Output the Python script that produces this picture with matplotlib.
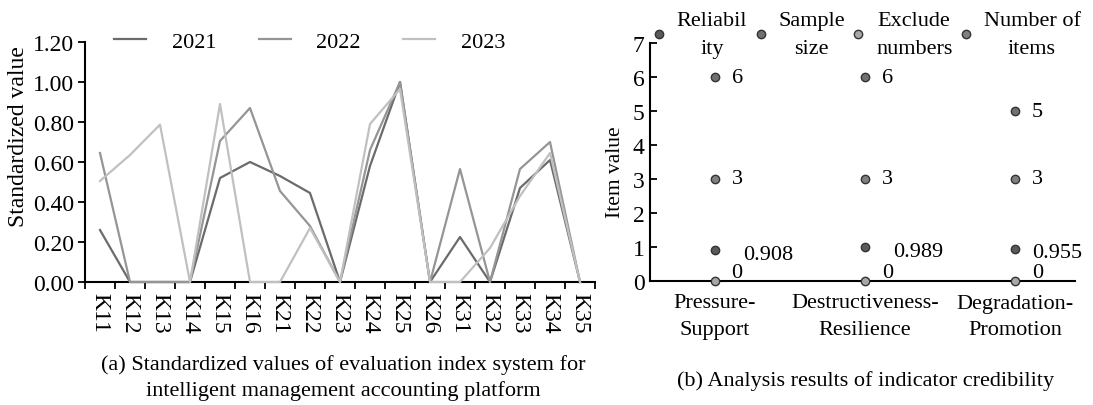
import matplotlib
matplotlib.use("Agg")
import matplotlib.pyplot as plt
import numpy as np

plt.rcParams['font.family'] = ['Liberation Serif', 'DejaVu Serif']

# ---------------- data: panel (a) ----------------
categories = ["K11", "K12", "K13", "K14", "K15", "K16", "K21", "K22", "K23",
              "K24", "K25", "K26", "K31", "K32", "K33", "K34", "K35"]
y2021 = [0.26, 0.00, 0.00, 0.00, 0.52, 0.60, 0.53, 0.445, 0.00,
         0.58, 1.00, 0.00, 0.225, 0.00, 0.47, 0.61, 0.00]
y2022 = [0.645, 0.00, 0.00, 0.00, 0.705, 0.87, 0.455, 0.28, 0.00,
         0.66, 1.00, 0.00, 0.565, 0.00, 0.565, 0.70, 0.00]
y2023 = [0.505, 0.635, 0.787, 0.00, 0.89, 0.00, 0.00, 0.27, 0.00,
         0.79, 0.965, 0.00, 0.00, 0.17, 0.43, 0.645, 0.00]
series_labels = ["2021", "2022", "2023"]
y_ticks_a = [0.0, 0.2, 0.4, 0.6, 0.8, 1.0, 1.2]

# ---------------- data: panel (b) ----------------
dimensions = ["Pressure-\nSupport", "Destructiveness-\nResilience", "Degradation-\nPromotion"]
reliability = [0.908, 0.989, 0.955]
sample_size = [6, 6, 5]
exclude_numbers = [0, 0, 0]
number_of_items = [3, 3, 3]
legend_b = ["Reliabil\nity", "Sample\nsize", "Exclude\nnumbers", "Number of\nitems"]
y_ticks_b = [0, 1, 2, 3, 4, 5, 6, 7]

FS_TICK = 17
FS_LEG = 16
FS_LAB = 16
FS_CAP = 16
fig = plt.figure(figsize=(10.93, 4.06), dpi=100)

# ================= panel (a) =================
axa = fig.add_axes([85/1093, 1-283/406, 510/1093, 240/406])
x = np.arange(len(categories))
colors_a = ["#6b6b6b", "#959595", "#c0c0c0"]
for ys, c, lab in zip([y2021, y2022, y2023], colors_a, series_labels):
    axa.plot(x, ys, color=c, lw=1.6, label=lab, clip_on=False, zorder=3)
axa.set_xlim(-0.5, len(categories) - 0.5)
axa.set_ylim(0, 1.2)
axa.set_yticks(y_ticks_a)
axa.set_yticklabels([f"{v:.2f}" for v in y_ticks_a], fontsize=FS_TICK)
axa.set_xticks(np.arange(-0.5, len(categories)), labels=[])
axa.set_xticks(x, minor=True)
axa.set_xticklabels(categories, minor=True, rotation=-90, fontsize=FS_TICK, va='top')
axa.tick_params(axis='x', which='minor', length=0, pad=7)
axa.tick_params(axis='x', which='major', direction='out', length=5, width=1.3)
axa.tick_params(axis='y', direction='out', length=5, width=1.3, pad=3)
for s in ['top', 'right']:
    axa.spines[s].set_visible(False)
for s in ['left', 'bottom']:
    axa.spines[s].set_linewidth(1.5)
axa.set_ylabel("Standardized value", fontsize=FS_TICK, va='center')
axa.yaxis.set_label_coords(-0.13, 0.61)
axa.legend(loc='center left', bbox_to_anchor=(0.057, 1.0), ncol=3, frameon=False,
           fontsize=FS_LEG, handlelength=1.45, handletextpad=1.15, columnspacing=1.9,
           borderaxespad=0, borderpad=0)
fig.text(343/1093, 1-378/406,
         "(a) Standardized values of evaluation index system for\nintelligent management accounting platform",
         ha='center', va='center', fontsize=FS_CAP, linespacing=1.45)

# ================= panel (b) =================
axb = fig.add_axes([650/1093, 1-282/406, 425/1093, 238/406])
xb = np.arange(len(dimensions))
mk = dict(marker='o', ms=6, mec='#333333', mew=1.0, ls='none', clip_on=False, zorder=4)
axb.plot(xb, reliability, mfc='#5a5a5a', label=legend_b[0], **mk)
axb.plot(xb, sample_size, mfc='#707070', label=legend_b[1], **mk)
axb.plot(xb, exclude_numbers, mfc='#a8a8a8', label=legend_b[2], **mk)
axb.plot(xb, number_of_items, mfc='#808080', label=legend_b[3], **mk)

def fmt(v):
    return str(int(v)) if float(v).is_integer() else f"{v:.3f}"

FS_PT = 16
for xi, v in zip(xb, sample_size):
    axb.annotate(fmt(v), (xi, v), xytext=(12, 0), textcoords='offset points',
                 va='center', ha='left', fontsize=FS_PT)
for xi, v in zip(xb, number_of_items):
    axb.annotate(fmt(v), (xi, v), xytext=(12, 0), textcoords='offset points',
                 va='center', ha='left', fontsize=FS_PT)
for xi, v, dx in zip(xb, reliability, [20, 20, 12]):
    axb.annotate(fmt(v), (xi, v), xytext=(dx, -3), textcoords='offset points',
                 va='center', ha='left', fontsize=FS_PT)
for xi, v in zip(xb, exclude_numbers):
    axb.annotate(fmt(v), (xi, v), xytext=(12, 6), textcoords='offset points',
                 va='center', ha='left', fontsize=FS_PT)

axb.set_xlim(-0.433, 2.4)
axb.set_ylim(0, 7)
axb.set_yticks(y_ticks_b)
axb.set_yticklabels([str(v) for v in y_ticks_b], fontsize=FS_TICK)
axb.tick_params(axis='y', direction='in', length=5, width=1.3, pad=4)
axb.set_xticks(xb)
axb.set_xticklabels(dimensions, fontsize=FS_LAB, linespacing=1.55)
axb.tick_params(axis='x', length=0, pad=9)
for s in ['top', 'right']:
    axb.spines[s].set_visible(False)
for s in ['left', 'bottom']:
    axb.spines[s].set_linewidth(1.5)
axb.set_ylabel("Item value", fontsize=15.5, va='center')
axb.yaxis.set_label_coords(-0.082, 0.46)
leg = axb.legend(loc='center left', bbox_to_anchor=(0.0, 1.035), ncol=4, frameon=False,
                 fontsize=FS_LEG, handlelength=0.8, handletextpad=0.4, columnspacing=0.2,
                 borderaxespad=0, borderpad=0, labelspacing=0)
for t in leg.get_texts():
    t.set_multialignment('center')
    t.set_linespacing(1.65)
fig.text(866/1093, 1-381/406, "(b) Analysis results of indicator credibility",
         ha='center', va='center', fontsize=FS_CAP)

fig.savefig("out.png", dpi=100)
